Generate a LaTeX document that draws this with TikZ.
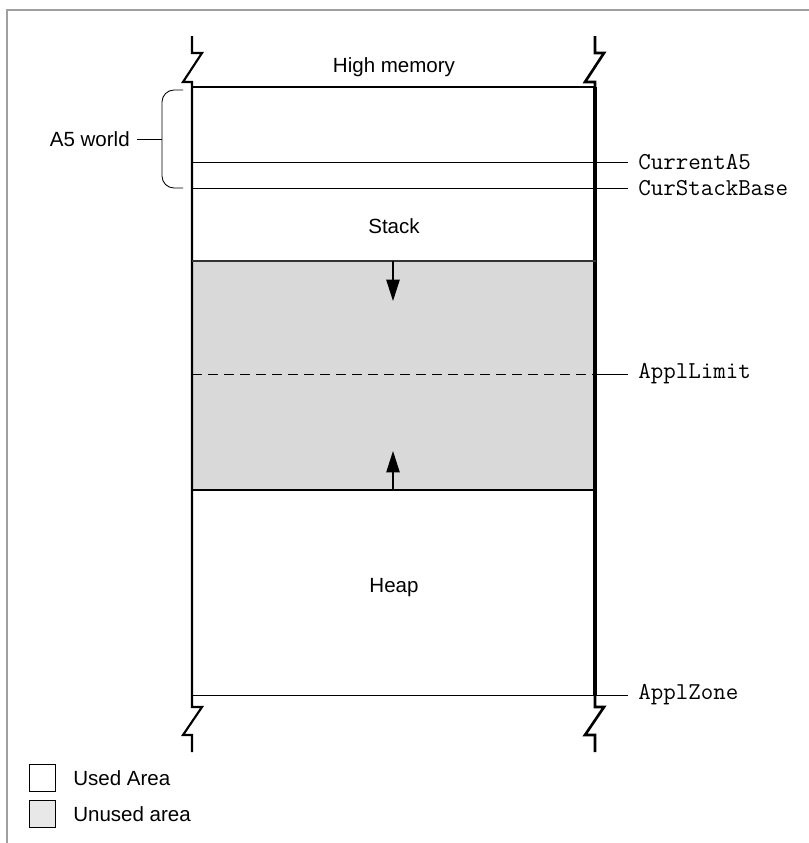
\documentclass[tikz,border=0pt]{standalone}
\usepackage{fontspec}
\setmainfont{Liberation Sans}
\usetikzlibrary{arrows.meta}
\definecolor{unused}{HTML}{D9D9D9}
\definecolor{framegray}{HTML}{A0A0A0}
\begin{document}
\begin{tikzpicture}[x=0.75pt,y=-0.75pt,
  txt/.style={font=\fontsize{15.4}{18}\selectfont, inner sep=0pt},
  code/.style={font=\ttfamily\fontsize{18.2}{21}\selectfont, inner sep=0pt, anchor=west},
  wallL/.style={line width=1.6pt},
  wallR/.style={line width=3pt},
  hline/.style={line width=0.65pt},
  arr/.style={line width=1pt,-{Triangle[length=16pt,width=10pt]}},
  legbox/.style={draw, line width=0.8pt, minimum width=20pt, minimum height=20pt, inner sep=0pt}]
\path[use as bounding box] (0,0) rectangle (809,843);
% outer frame (top and left only)
\draw[framegray, line width=1.2pt] (809,10) -- (7,10) -- (7,843);
% unused region
\fill[unused] (192,261) rectangle (596,490);
% coordinates
\coordinate (TL) at (192,87);
\coordinate (TR) at (595,87);
\coordinate (BL) at (192,695);
\coordinate (BR) at (595,695);
% left wall with breaks
\draw[wallL] (192,36) -- (192,53) -- (202,53) -- (183,82) -- (192,82) -- (TL) -- (BL) -- (192,707) -- (202,707) -- (183,735) -- (192,735) -- (192,752);
% right wall with breaks
\draw[line width=2pt] (595,36) -- (595,53) -- (604,53) -- (585,82) -- (595,82) -- (TR);
\draw[wallR] (TR) -- (BR);
\draw[line width=2pt] (BR) -- (595,707) -- (604,707) -- (585,735) -- (595,735) -- (595,752);
% top of memory
\draw[line width=1.2pt] (TL) -- (TR);
\node[txt] (high) at (394,67) {High memory};
% labels
\node[code] (ca5) at (638,162) {CurrentA5};
\node[code] (csb) at (638,188) {CurStackBase};
\node[code] (alim) at (638,374) {ApplLimit};
\node[code] (azone) at (638,695) {ApplZone};
\draw[hline] (192,162) -- (628,162);
\draw[hline] (192,188) -- (628,188);
\draw[hline] (192,695) -- (628,695);
\draw[hline, dash pattern=on 7.5pt off 4.5pt] (192,374) -- (596,374);
\draw[hline] (596,374) -- (628,374);
% unused region borders
\draw[line width=1pt, black!80] (192,261) -- (596,261);
\draw[line width=1pt] (192,490) -- (596,490);
% region names
\node[txt] (stack) at (394,226) {Stack};
\node[txt] (heap) at (394,588) {Heap};
% growth arrows
\coordinate (sTop) at (393,261);
\coordinate (sTip) at (393,301);
\coordinate (hBot) at (393,490);
\coordinate (hTip) at (393,451);
\draw[arr] (sTop) -- (sTip);
\draw[arr] (hBot) -- (hTip);
% A5 world brace
\draw[line width=0.65pt, rounded corners=9pt] (183,90) -- (162,90) -- (162,188) -- (183,188);
\node[txt, anchor=east] (a5) at (130,139) {A5 world};
\draw[line width=0.65pt] (137,139) -- (162,139);
% legend
\node[legbox, fill=white] (lu) at (42.5,778) {};
\node[legbox, fill=unused!60] (lun) at (42.5,814) {};
\node[txt, anchor=west] (lut) at (73,778) {Used Area};
\node[txt, anchor=west] (lunt) at (73,814) {Unused area};
\end{tikzpicture}
\end{document}
